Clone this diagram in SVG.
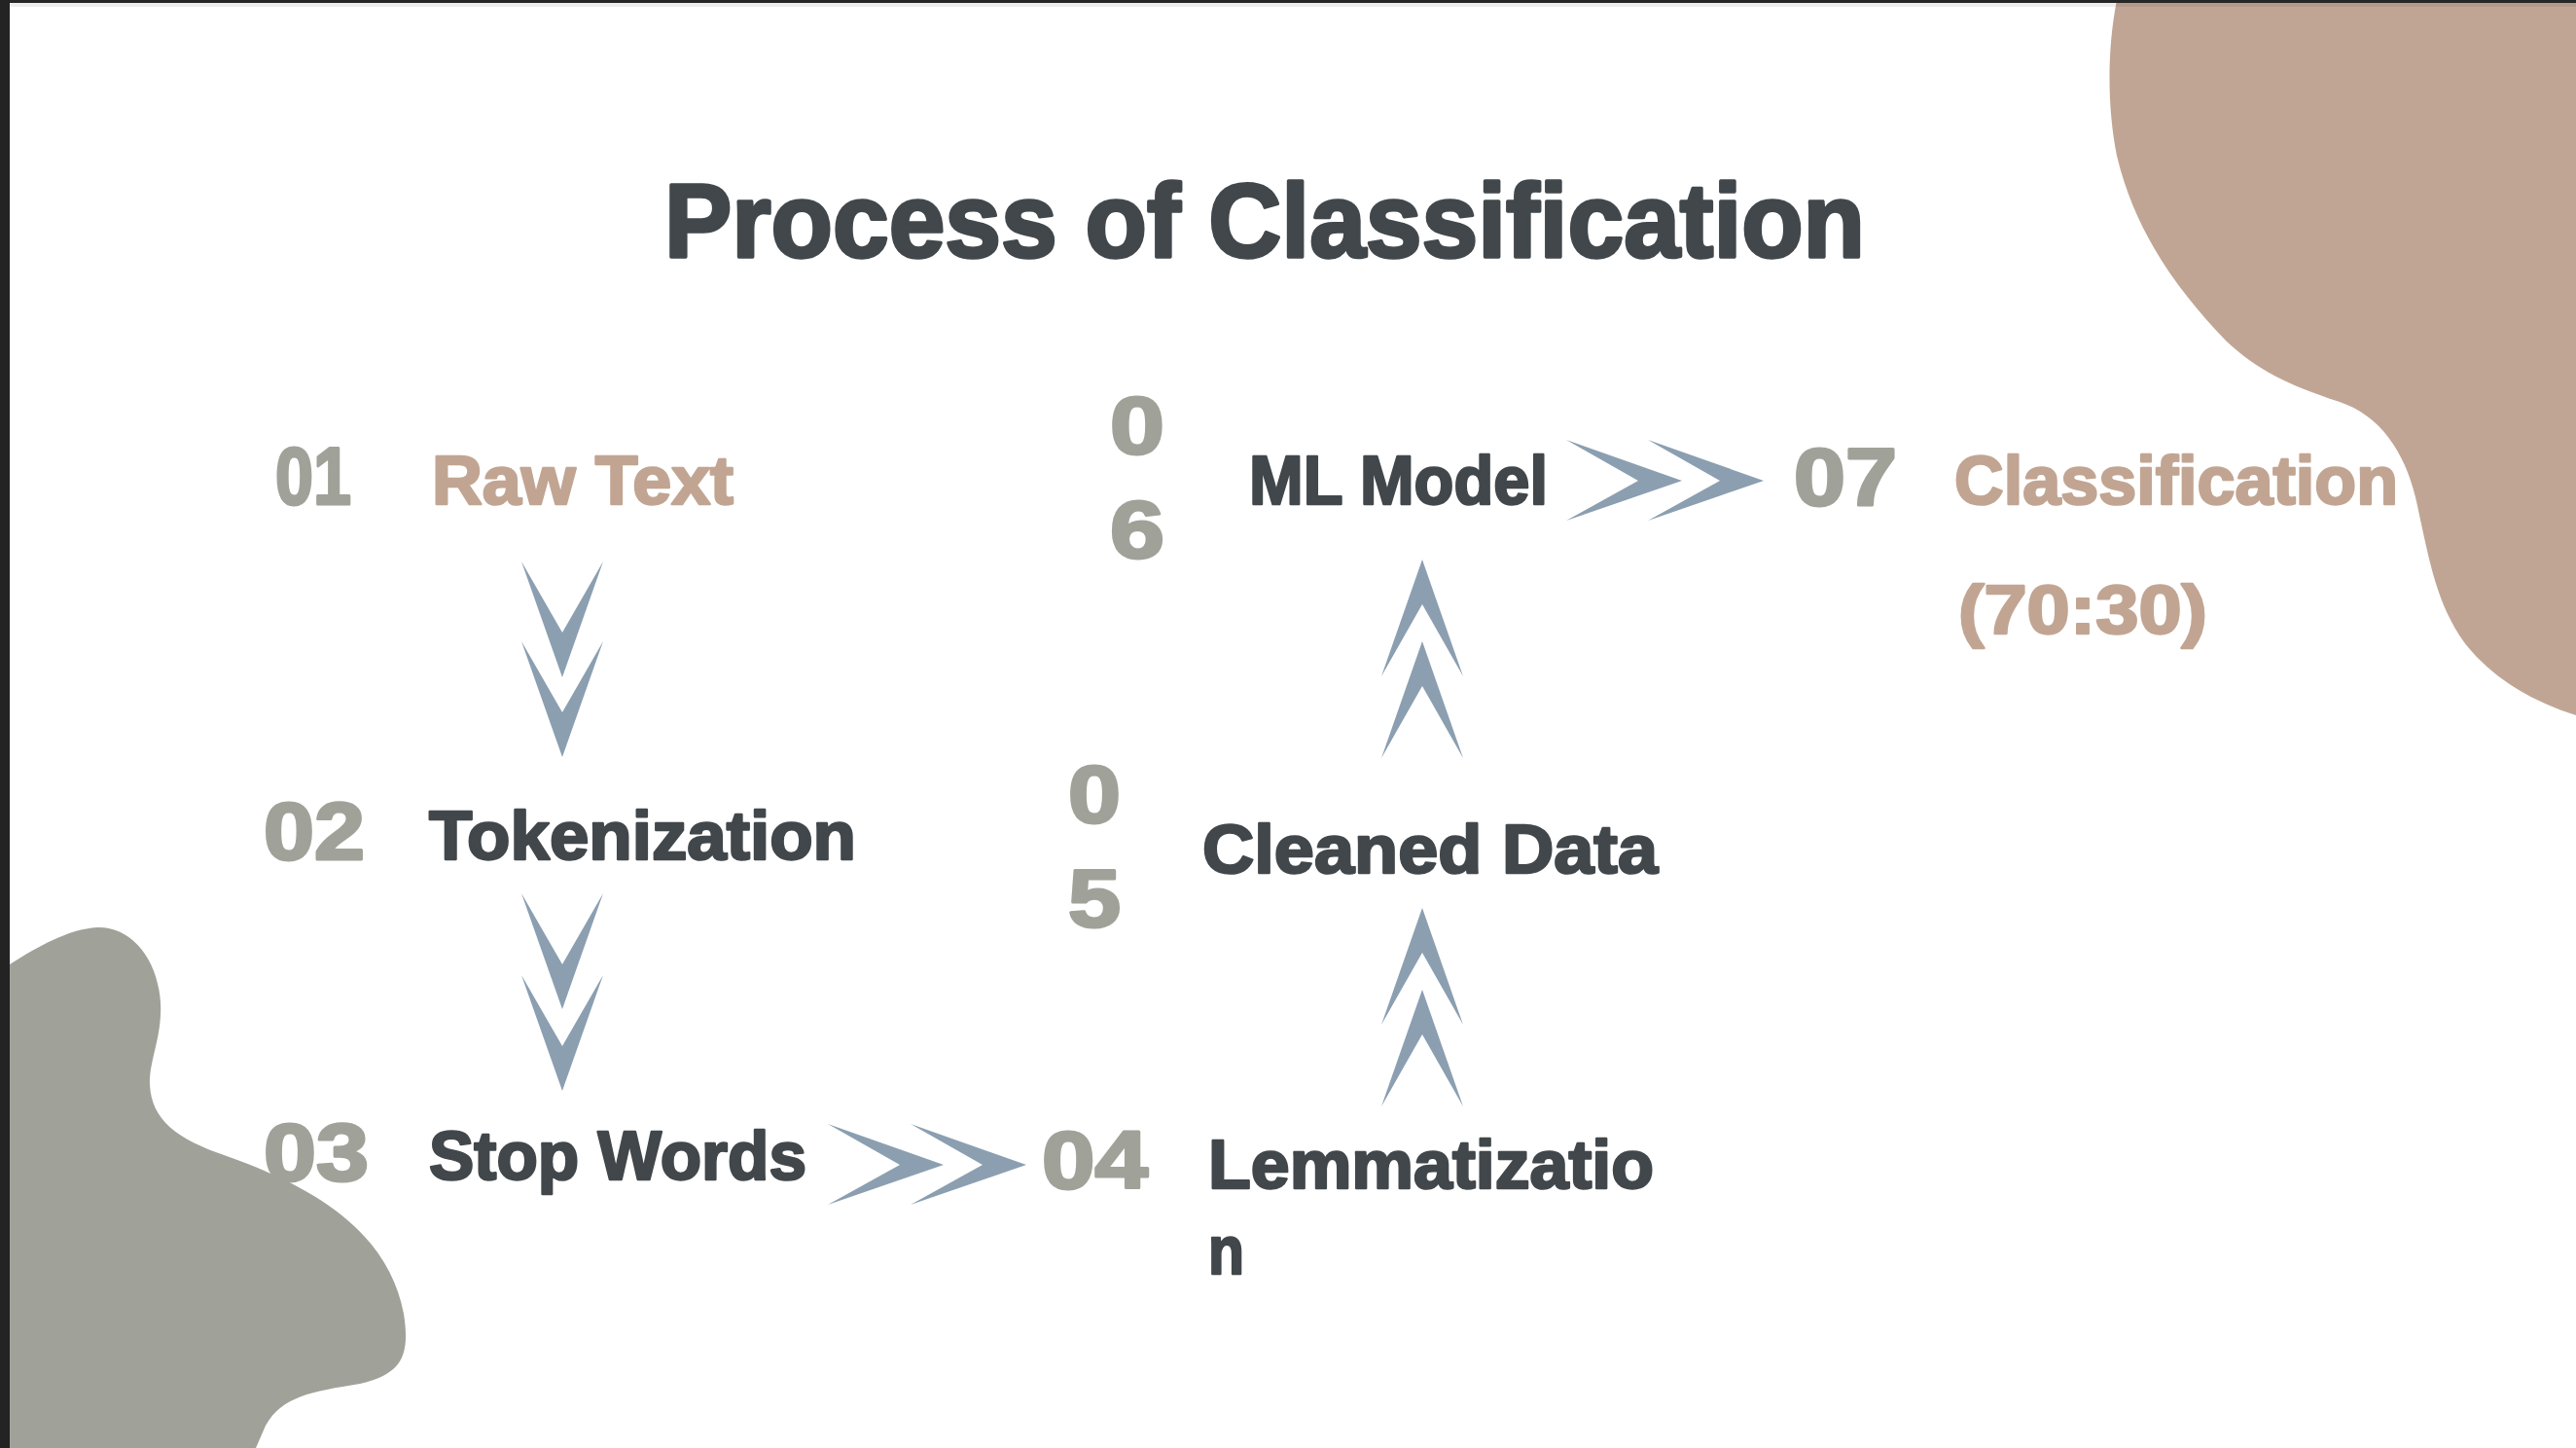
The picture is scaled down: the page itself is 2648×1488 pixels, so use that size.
<svg xmlns="http://www.w3.org/2000/svg" xmlns:xlink="http://www.w3.org/1999/xlink" width="2648" height="1488" viewBox="0 0 2648 1488">
<style>
text{font-family:"Liberation Sans","DejaVu Sans",sans-serif;font-weight:700;stroke-linejoin:round}
.title{font-size:108px;fill:#41474b;stroke:#41474b;stroke-width:3.5px}
.num{font-size:84px;fill:#a0a198;stroke:#a0a198;stroke-width:3px}
.lbl{font-size:71px;fill:#41474b;stroke:#41474b;stroke-width:2.5px}
.brn{font-size:71px;fill:#c1a592;stroke:#c1a592;stroke-width:2.5px}
.arr{fill:#8b9fb1}
</style>
<defs>
<polygon id="cd" points="0,0 42,73 84,0 42,119"/>
<polygon id="cu" points="42,0 84,120 42,46 0,120"/>
<polygon id="cr" points="0,0 119,42 0,83 74,42"/>
</defs>
<rect x="0" y="0" width="2648" height="1488" fill="#ffffff"/>
<g id="decor">
<path d="M2176,0 C2166,50 2166,110 2176,160 C2195,240 2240,300 2288,350 C2320,380 2350,395 2405,413 C2450,428 2475,470 2485,520 C2498,580 2505,620 2533,660 C2560,695 2600,720 2648,735 L2648,0 Z" fill="#c1a594"/>
<path d="M10,991 C40,972 70,955 100,953 C135,952 162,985 165,1030 C167,1065 153,1090 154,1115 C156,1150 180,1170 233,1188 C330,1222 400,1270 415,1350 C422,1395 412,1412 370,1422 C320,1430 290,1435 273,1465 L263,1488 L10,1488 Z" fill="#a0a199"/>
<rect x="10" y="3" width="2638" height="4" fill="#000" fill-opacity="0.07"/>
<rect x="0" y="0" width="2648" height="3" fill="#262626"/>
<rect x="0" y="0" width="10" height="1488" fill="#232323"/>
</g>
<g id="title"><text class="title" x="683" y="264" textLength="1234" lengthAdjust="spacingAndGlyphs">Process of Classification</text></g>
<g id="connectors" class="arr">
<use xlink:href="#cd" x="536" y="577"/>
<use xlink:href="#cd" x="536" y="659"/>
<use xlink:href="#cd" x="536" y="918"/>
<use xlink:href="#cd" x="536" y="1002"/>
<use xlink:href="#cr" x="851" y="1155"/>
<use xlink:href="#cr" x="936" y="1155"/>
<use xlink:href="#cu" x="1420" y="933"/>
<use xlink:href="#cu" x="1420" y="1017"/>
<use xlink:href="#cu" x="1420" y="575"/>
<use xlink:href="#cu" x="1420" y="659"/>
<use xlink:href="#cr" x="1610" y="452"/>
<use xlink:href="#cr" x="1694" y="452"/>
</g>
<g id="step01">
<text class="num" x="283" y="518" textLength="78" lengthAdjust="spacingAndGlyphs">01</text>
<text class="brn" x="444" y="518" textLength="310" lengthAdjust="spacingAndGlyphs">Raw Text</text>
</g>
<g id="step02">
<text class="num" x="271" y="883" textLength="104" lengthAdjust="spacingAndGlyphs">02</text>
<text class="lbl" x="441" y="883" textLength="439" lengthAdjust="spacingAndGlyphs">Tokenization</text>
</g>
<g id="step03">
<text class="num" x="271" y="1213" textLength="108" lengthAdjust="spacingAndGlyphs">03</text>
<text class="lbl" x="441" y="1212" textLength="388" lengthAdjust="spacingAndGlyphs">Stop Words</text>
</g>
<g id="step04">
<text class="num" x="1071" y="1221" textLength="109" lengthAdjust="spacingAndGlyphs">04</text>
<text class="lbl" x="1242" y="1221" textLength="458" lengthAdjust="spacingAndGlyphs">Lemmatizatio</text>
<text class="lbl" x="1242" y="1309" textLength="37" lengthAdjust="spacingAndGlyphs">n</text>
</g>
<g id="step05">
<text class="num" x="1098" y="845" textLength="54" lengthAdjust="spacingAndGlyphs">0</text>
<text class="num" x="1098" y="952" textLength="54" lengthAdjust="spacingAndGlyphs">5</text>
<text class="lbl" x="1236" y="897" textLength="468" lengthAdjust="spacingAndGlyphs">Cleaned Data</text>
</g>
<g id="step06">
<text class="num" x="1141" y="466" textLength="56" lengthAdjust="spacingAndGlyphs">0</text>
<text class="num" x="1141" y="573" textLength="56" lengthAdjust="spacingAndGlyphs">6</text>
<text class="lbl" x="1284" y="518" textLength="307" lengthAdjust="spacingAndGlyphs">ML Model</text>
</g>
<g id="step07">
<text class="num" x="1844" y="519" textLength="106" lengthAdjust="spacingAndGlyphs">07</text>
<text class="brn" x="2009" y="518" textLength="456" lengthAdjust="spacingAndGlyphs">Classification</text>
<text class="brn" x="2013" y="651" textLength="256" lengthAdjust="spacingAndGlyphs">(70:30)</text>
</g>
</svg>
